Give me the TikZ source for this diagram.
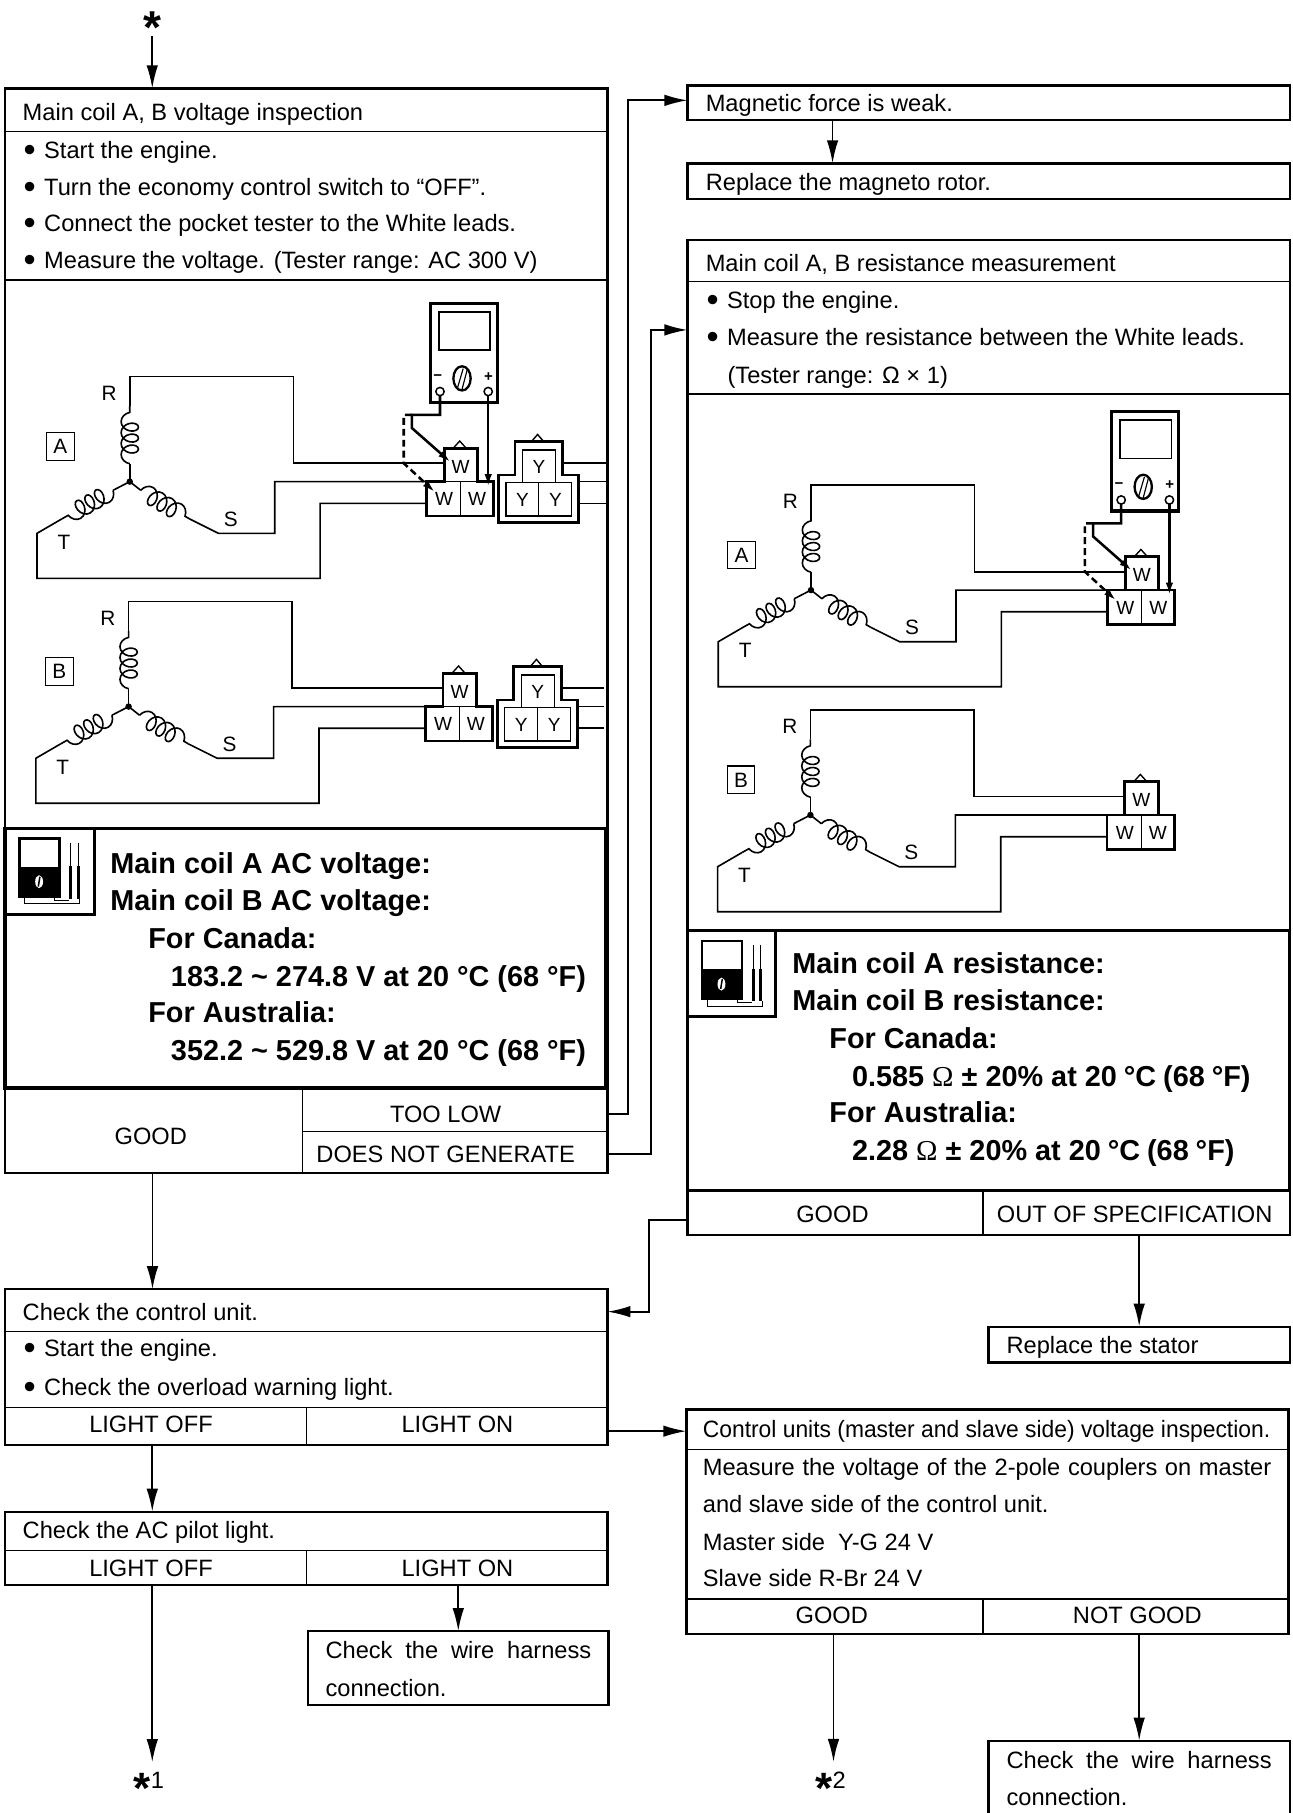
\documentclass[tikz,border=0pt]{standalone}
\usepackage{fontspec}
\setmainfont{Liberation Sans}
\newfontfamily\omfont{Liberation Serif}
\usetikzlibrary{arrows.meta,decorations.pathmorphing}
\newcommand{\fsn}{\fontsize{20.5pt}{24pt}\selectfont}
\newcommand{\fsb}{\fontsize{25pt}{30pt}\selectfont\bfseries}
\newcommand{\bul}{{\fontsize{30pt}{30pt}\selectfont\raisebox{-2.6pt}{\textbullet}}\hspace{7.3pt}}
\newcommand{\om}{{\omfont\mdseries Ω}}

% wiring diagram: #1 prefix, #2 dx, #3 dy, #4 letter, #5 meter, #6 Y coupler
\newcommand{\coilsys}[6]{%
\begin{scope}[shift={(#2,#3)}]
  \draw[wire] (112.5,417.5) -- (112.5,402);
  \draw[wire,coilw] (112.5,402) -- (112.5,352);
  \draw[wire] (112.5,352) -- (112.5,326.5) -- (254.3,326.5) -- (254.3,401.6) -- (385,401.6);
  \draw[wire] (112.5,417.5) -- (122,425);
  \draw[wire,coilw] (122,425) -- (164.3,449.8);
  \draw[wire] (164.3,449.8) -- (189.3,462.3) -- (238.2,462.3) -- (238.2,417.5) -- (385,417.5);
  \draw[wire] (112.5,417.5) -- (98,425);
  \draw[wire,coilw] (98,425) -- (53.6,449.8);
  \draw[wire] (53.6,449.8) -- (32.1,462.3) -- (32.1,501.3) -- (277.5,501.3) -- (277.5,436.3) -- (369.6,436.3);
  \fill (112.5,417.5) circle (2.8pt);
  \node[lbl] (#1R) at (94.6,340.5) {R};
  \node[lbl] (#1S) at (200,449.8) {S};
  \node[lbl] (#1T) at (55.4,469.6) {T};
  \node[lbl, draw, line width=0.9pt, minimum width=24pt, minimum height=24pt] (#1L) at (52.3,387) {#4};
  % W coupler
  \draw[line width=2.4pt] (385,417.5) -- (385,388.6) -- (414,388.6) -- (414,417.5) -- (427.9,417.5) -- (427.9,447.3) -- (369.6,447.3) -- (369.6,417.5) -- cycle;
  \draw[dv] (385,417.5) -- (414,417.5);
  \draw[dv] (399.3,417.5) -- (399.3,447.3);
  \draw[line width=1.2pt] (392.8,388.6) -- (398.5,382.3) -- (404.2,388.6);
  \node[pin] (#1w1) at (399.3,404.3) {W};
  \node[pin] (#1w2) at (385,432.6) {W};
  \node[pin] (#1w3) at (413.6,432.6) {W};
  \ifnum#5=1
    \draw[line width=2.8pt] (373.2,263) rectangle (431.4,349);
    \draw[line width=1.4pt] (380.4,270.2) rectangle (425,303.4);
    \draw[line width=2pt] (400.5,328) ellipse [x radius=7.5pt, y radius=10.5pt];
    \draw[line width=1pt] (396.5,336.5) -- (401.5,319.5) (400.5,337.5) -- (405,320.5);
    \node[pm] (#1mn) at (379.4,327) {−};
    \node[pm] (#1mp) at (423.4,326.5) {+};
    \draw[line width=1.3pt] (381.4,339.4) circle (3.6pt) (423.2,339.4) circle (3.6pt);
    \draw[probe] (381.4,343) -- (381.4,359.7) -- (357,359.7) -- (357,371) -- (390.5,400.5);
    \draw[probe, dash pattern=on 6pt off 3.5pt] (357,359.7) -- (350,359.7) -- (350,401.6) -- (377,426.5);
    \draw[probe] (423.2,343) -- (423.2,422);
  \fi
  \ifnum#6=1
    \draw[line width=2.4pt] (446.4,411.8) -- (446.4,382.9) -- (487.5,382.9) -- (487.5,411.8) -- (501.8,411.8) -- (501.8,453.1) -- (432.1,453.1) -- (432.1,411.8) -- cycle;
    \draw[dv] (452.9,417.5) -- (452.9,390) -- (481.4,390) -- (481.4,417.5);
    \draw[dv] (438.6,418.4) rectangle (495.7,447.3);
    \draw[dv] (467.1,418.4) -- (467.1,447.3);
    \draw[line width=1.2pt] (460.6,382.9) -- (466,376.6) -- (471.4,382.9);
    \node[pin] (#1y1) at (467.1,404.3) {Y};
    \node[pin] (#1y2) at (452.9,433) {Y};
    \node[pin] (#1y3) at (481.4,433) {Y};
    \draw[wire] (487.5,401.6) -- (525,401.6);
    \draw[wire] (501.8,417.5) -- (525,417.5);
    \draw[wire] (501.8,436.3) -- (525,436.3);
  \fi
\end{scope}}

% tester icon in spec boxes
\newcommand{\specicon}[2]{%
\begin{scope}[shift={(#1,#2)}]
  \fill (17.1,751.3) rectangle (51.8,777.3);
  \draw[line width=2.2pt] (17.1,726.7) rectangle (51.8,777.3);
  \fill[white] (33.9,764.3) ellipse [x radius=3.4pt, y radius=5.6pt];
  \draw[line width=1.3pt] (33.2,768.5) -- (34.6,760);
  \draw[line width=0.8pt] (61.3,730.5) -- (61.3,752) (67.8,730.5) -- (67.8,752);
  \draw[line width=2.6pt] (61.3,751) -- (61.3,779) (67.8,751) -- (67.8,779);
  \draw[line width=0.8pt] (21.5,777.3) -- (21.5,783.5) -- (69,783.5) -- (69,779);
  \draw[line width=0.8pt] (47.5,777.3) -- (47.5,780.5) -- (60,780.5);
\end{scope}}

\begin{document}
\begin{tikzpicture}[x=1pt,y=-1pt,
  bx/.style={draw, line width=2pt, inner sep=0pt, outer sep=0pt, anchor=north west},
  sbx/.style={bx, line width=3pt},
  ibx/.style={bx, line width=2.6pt},
  dv/.style={line width=1.1pt},
  con/.style={line width=1.6pt},
  arr/.style={con, -{Latex[length=20pt,width=10pt]}},
  wire/.style={line width=1.4pt},
  coilw/.style={decorate, decoration={coil, amplitude=7.5pt, segment length=9.5pt, aspect=0.75}},
  tx/.style={inner sep=0pt, outer sep=0pt, anchor=west, text height=14.8pt, text depth=0pt, font=\fsn},
  txc/.style={tx, anchor=center},
  btx/.style={inner sep=0pt, outer sep=0pt, anchor=west, text height=18pt, text depth=0pt, font=\fsb},
  lbl/.style={inner sep=0pt, text height=13pt, text depth=0pt, font=\fontsize{18pt}{20pt}\selectfont},
  pin/.style={inner sep=0pt, text height=12pt, text depth=0pt, font=\fontsize{16.5pt}{18pt}\selectfont},
  pm/.style={inner sep=0pt, font=\fontsize{13pt}{14pt}\selectfont\bfseries},
  probe/.style={line width=2.2pt, line join=miter, -{Latex[length=11pt,width=6.5pt]}},
  star/.style={inner sep=0pt, outer sep=0pt, font=\fontsize{40pt}{40pt}\selectfont\bfseries},
  bstar/.style={star, anchor=base west, font=\fontsize{38pt}{38pt}\selectfont\bfseries}
]
\fill[white] (0,0) rectangle (1120,1571.6);
\useasboundingbox (0,0) rectangle (1120,1571.6);
\clip (0,0) rectangle (1120,1571.6);

% ---------- wiring pictures ----------
\coilsys{la}{0}{0}{A}{1}{1}
\coilsys{lb}{-1}{195}{B}{0}{1}
\coilsys{ra}{590.5}{94}{A}{1}{0}
\coilsys{rb}{590}{289}{B}{0}{0}

% ---------- top star ----------
\node[star, anchor=base] (star0) at (132,38) {*};

% ---------- voltage inspection box ----------
\node[bx, minimum width=522pt, minimum height=940.4pt] (vbox) at (4.5,76.6) {};
\draw[dv] (4.5,114) -- (526.5,114);
\draw[dv] (4.5,242.7) -- (526.5,242.7);
\node[tx] (v0) at (19.7,96.8) {Main coil A, B voltage inspection};
\node[tx] (v1) at (20.5,130) {\bul Start the engine.};
\node[tx] (v2) at (20.5,161.8) {\bul Turn the economy control switch to “OFF”.};
\node[tx] (v3) at (20.5,193.6) {\bul Connect the pocket tester to the White leads.};
\node[tx] (v4) at (20.5,225.4) {\bul Measure the voltage. (Tester range: AC 300 V)};
\node[sbx, minimum width=521pt, minimum height=225pt] (spec1) at (4.5,718) {};
\node[ibx, minimum width=77pt, minimum height=75pt] (icon1) at (4.5,718) {};
\specicon{0}{0}
\node[btx] (s1a) at (95.7,748.1) {Main coil A AC voltage:};
\node[btx] (s1b) at (95.7,780.2) {Main coil B AC voltage:};
\node[btx] (s1c) at (128.6,813.4) {For Canada:};
\node[btx] (s1d) at (148.2,845.9) {183.2 \textasciitilde{} 274.8 V at 20 °C (68 °F)};
\node[btx] (s1e) at (128.6,877) {For Australia:};
\node[btx] (s1f) at (148.2,910.2) {352.2 \textasciitilde{} 529.8 V at 20 °C (68 °F)};
\draw[dv] (262.5,943) -- (262.5,1017);
\draw[dv] (262.5,981) -- (526.5,981);
\node[txc] (vGood) at (130.7,984.6) {GOOD};
\node[txc] (tooLow) at (386.3,965.8) {TOO LOW};
\node[txc] (dng) at (386.3,1000.2) {DOES NOT GENERATE};

% ---------- magnetic force / rotor ----------
\node[bx, minimum width=522pt, minimum height=30pt] (mag) at (596,74) {};
\node[tx] (m0) at (611.8,89.6) {Magnetic force is weak.};
\node[bx, minimum width=522pt, minimum height=31.2pt] (rotor) at (596,141.6) {};
\node[tx] (ro0) at (611.8,158) {Replace the magneto rotor.};

% ---------- resistance box ----------
\node[bx, minimum width=522pt, minimum height=862.6pt] (rbox) at (596,208) {};
\draw[dv] (596,244.2) -- (1118,244.2);
\draw[dv] (596,341.6) -- (1118,341.6);
\node[tx] (r0) at (611.8,227.8) {Main coil A, B resistance measurement};
\node[tx] (r1) at (612.5,260) {\bul Stop the engine.};
\node[tx] (r2) at (612.5,291.8) {\bul Measure the resistance between the White leads.};
\node[tx] (r3) at (630.7,325) {(Tester range: Ω × 1)};
\node[sbx, minimum width=522pt, minimum height=225.2pt] (spec2) at (596,806.8) {};
\node[ibx, minimum width=76.5pt, minimum height=74.2pt] (icon2) at (596,806.8) {};
\specicon{591.5}{88.8}
\node[btx] (s2a) at (686.8,834.8) {Main coil A resistance:};
\node[btx] (s2b) at (686.8,866.9) {Main coil B resistance:};
\node[btx] (s2c) at (719,900) {For Canada:};
\node[btx] (s2d) at (738.6,932.4) {0.585 \om{} ± 20\% at 20\hspace{6pt}°C\hspace{6pt}(68\hspace{6pt}°F)};
\node[btx] (s2e) at (719,963.7) {For Australia:};
\node[btx] (s2f) at (738.6,996.9) {2.28 \om{} ± 20\% at 20\hspace{6pt}°C\hspace{6pt}(68\hspace{6pt}°F)};
\draw[dv] (852,1032) -- (852,1070.6);
\node[txc] (rGood) at (721.6,1052.2) {GOOD};
\node[txc] (oos) at (983.6,1052.2) {OUT OF SPECIFICATION};

% ---------- stator ----------
\node[bx, minimum width=261pt, minimum height=31pt] (stator) at (857,1150) {};
\node[tx] (st0) at (872.5,1166.2) {Replace the stator};

% ---------- control unit ----------
\node[bx, minimum width=522pt, minimum height=135pt] (cu) at (4.5,1117.6) {};
\draw[dv] (4.5,1154.4) -- (526.5,1154.4);
\draw[dv] (4.5,1220) -- (526.5,1220);
\draw[dv] (266,1220) -- (266,1252.6);
\node[tx] (cu0) at (19.7,1137) {Check the control unit.};
\node[tx] (cu1) at (20.5,1168.8) {\bul Start the engine.};
\node[tx] (cu2) at (20.5,1202) {\bul Check the overload warning light.};
\node[txc] (cuOff) at (130.9,1234.3) {LIGHT OFF};
\node[txc] (cuOn) at (396.5,1234.3) {LIGHT ON};

% ---------- AC pilot light ----------
\node[bx, minimum width=522pt, minimum height=63.6pt] (ac) at (4.5,1310.4) {};
\draw[dv] (4.5,1344.2) -- (526.5,1344.2);
\draw[dv] (266,1344.2) -- (266,1374);
\node[tx] (ac0) at (19.7,1326.3) {Check the AC pilot light.};
\node[txc] (acOff) at (130.9,1359.1) {LIGHT OFF};
\node[txc] (acOn) at (396.5,1359.1) {LIGHT ON};

% ---------- harness (left) ----------
\node[bx, minimum width=260.5pt, minimum height=64pt] (harnL) at (267,1414) {};
\node[tx] (hl1) at (282.2,1430.3) {\makebox[230.4pt][s]{Check the wire harness}};
\node[tx] (hl2) at (282.2,1463.5) {connection.};

% ---------- control units voltage ----------
\node[bx, minimum width=522pt, minimum height=195pt] (ctrl) at (595,1221.7) {};
\draw[dv] (595,1256.3) -- (1117,1256.3);
\draw[dv] (595,1386) -- (1117,1386);
\draw[dv] (852,1386) -- (852,1416.7);
\node[tx] (ct0) at (609.3,1238.4) {\resizebox{491.8pt}{\height}{Control units (master and slave side) voltage inspection.}};
\node[tx] (ct1) at (609.3,1271.7) {\makebox[492.7pt][s]{Measure the voltage of the 2-pole couplers on master}};
\node[tx] (ct2) at (609.3,1303.5) {and slave side of the control unit.};
\node[tx] (ct3) at (609.3,1336.4) {Master side\ \ Y-G 24 V};
\node[tx] (ct4) at (609.3,1368.2) {Slave side R-Br 24 V};
\node[txc] (ctGood) at (721,1400.2) {GOOD};
\node[txc] (ctNot) at (985.9,1400.2) {NOT GOOD};

% ---------- harness (right) ----------
\node[bx, minimum width=261pt, minimum height=66pt] (harnR) at (857,1509) {};
\node[tx] (hr1) at (872.5,1525.7) {\makebox[229.8pt][s]{Check the wire harness}};
\node[tx] (hr2) at (872.5,1557.5) {connection.};

% ---------- bottom stars ----------
\node[bstar] (star1) at (116,1563.4) {*\raisebox{12.7pt}{\fsn\mdseries 1}};
\node[bstar] (star2) at (707,1563.4) {*\raisebox{12.7pt}{\fsn\mdseries 2}};

% ---------- connectors ----------
\draw[arr] ([yshift=7pt]star0.south) -- (star0.south |- vbox.north);
\draw[arr] (tooLow -| vbox.east) -- ++(18,0) |- ([yshift=2pt]mag.west);
\draw[arr] ([xshift=125.7pt]mag.south west) -- ([xshift=125.7pt]rotor.north west);
\draw[arr] (dng -| vbox.east) -- ++(37.5,0) |- ([yshift=-78pt]rbox.north west);
\draw[arr] ([xshift=127.7pt]vbox.south west) -- ([xshift=127.7pt]cu.north west);
\draw[arr] ([yshift=13pt]rbox.south west) -- ++(-33.4,0) |- (cu0 -| cu.east);
\draw[arr] (stator.north |- rbox.south) -- (stator.north);
\coordinate (cuOut) at ([yshift=12pt]cu.south east);
\draw[arr] (cuOut) -- (cuOut -| ctrl.west);
\draw[arr] ([xshift=127.5pt]cu.south west) -- ([xshift=127.5pt]ac.north west);
\coordinate (acOut) at ([xshift=127.5pt]ac.south west);
\draw[arr, shorten >=9pt] (acOut) -- (acOut |- star1.north);
\draw[arr] (harnL.north |- ac.south) -- (harnL.north);
\coordinate (ctOut) at ([xshift=127.5pt]ctrl.south west);
\draw[arr, shorten >=9pt] (ctOut) -- (ctOut |- star2.north);
\draw[arr] (harnR.north |- ctrl.south) -- (harnR.north);
\end{tikzpicture}
\end{document}
